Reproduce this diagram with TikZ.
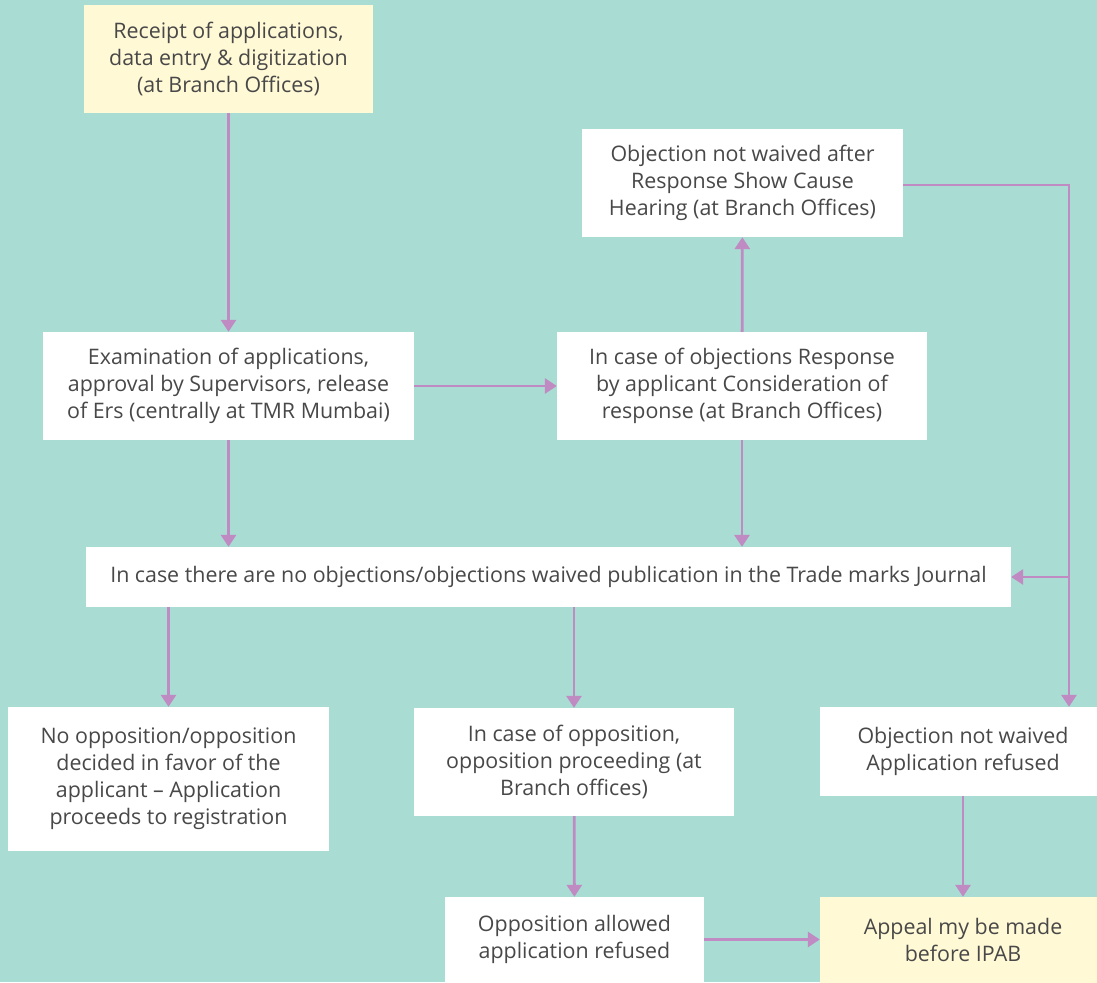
\documentclass[tikz,border=0pt]{standalone}
\usepackage{fontspec}
\setmainfont{Open Sans}
\usepackage{tikz}
\usetikzlibrary{arrows.meta}

\definecolor{bgteal}{HTML}{A9DCD2}
\definecolor{paleyellow}{HTML}{FFF9D6}
\definecolor{flowpurple}{HTML}{C08AC3}
\definecolor{textgray}{HTML}{484848}

\tikzset{
  stage/.style={fill=white, text=textgray, align=center, inner sep=0pt},
  endstage/.style={stage, fill=paleyellow},
  flow/.style={draw=flowpurple, line width=2.8pt,
    -{Triangle[width=15pt,length=12pt]}}
}

\begin{document}
\begin{tikzpicture}[x=1pt, y=-1pt, font=\fontsize{21.4}{27}\selectfont]
\fill[bgteal] (0,0) rectangle (1097,982);
\useasboundingbox (0,0) rectangle (1097,982);

% stages
\node[endstage, minimum width=289pt, minimum height=108pt] (receipt) at (228.5,59)
  {Receipt of applications,\\data entry \& digitization\\(at Branch Offices)};
\node[stage, minimum width=371pt, minimum height=108pt] (exam) at (228.5,386)
  {Examination of applications,\\approval by Supervisors, release\\of Ers (centrally at TMR Mumbai)};
\node[stage, minimum width=370pt, minimum height=108pt] (objresp) at (742,386)
  {In case of objections Response\\by applicant Consideration of\\response (at Branch Offices)};
\node[stage, minimum width=321pt, minimum height=108pt] (hearing) at (742.5,183)
  {Objection not waived after\\Response Show Cause\\Hearing (at Branch Offices)};
\node[stage, minimum width=925pt, minimum height=60pt] (journal) at (548.5,577)
  {In case there are no objections/objections waived publication in the Trade marks Journal};
\node[stage, minimum width=321pt, minimum height=144pt] (register) at (168.5,779)
  {No opposition/opposition\\decided in favor of the\\applicant -- Application\\proceeds to registration};
\node[stage, minimum width=320pt, minimum height=108pt] (opposition) at (574,762)
  {In case of opposition,\\opposition proceeding (at\\Branch offices)};
\node[stage, minimum width=286pt, minimum height=89pt] (refused) at (963,751.5)
  {Objection not waived\\Application refused};
\node[stage, minimum width=259pt, minimum height=85pt] (allowed) at (574.5,939.5)
  {Opposition allowed\\application refused};
\node[endstage, minimum width=286pt, minimum height=86pt] (appeal) at (963,940)
  {Appeal my be made\\before IPAB};

% connectors
\coordinate (corner) at (1069,185);
\coordinate (split) at (1069,577);

\draw[flow] (receipt) -- (exam);
\draw[flow] (exam) -- (objresp);
\draw[flow] (objresp) -- (hearing);
\draw[flow] (exam.south) -- (exam.south |- journal.north);
\draw[flow] (objresp.south) -- (objresp.south |- journal.north);
\draw[flow] (journal.south -| register.north) -- (register.north);
\draw[flow] (journal.south -| opposition.north) -- (opposition.north);
\draw[flow] (hearing.east |- corner) -- (corner) -- (corner |- refused.north);
\draw[flow] (split) -- (journal.east);
\draw[flow] (opposition) -- (allowed);
\draw[flow] (refused) -- (appeal);
\draw[flow] (allowed) -- (appeal.west |- allowed.east);
\end{tikzpicture}
\end{document}
